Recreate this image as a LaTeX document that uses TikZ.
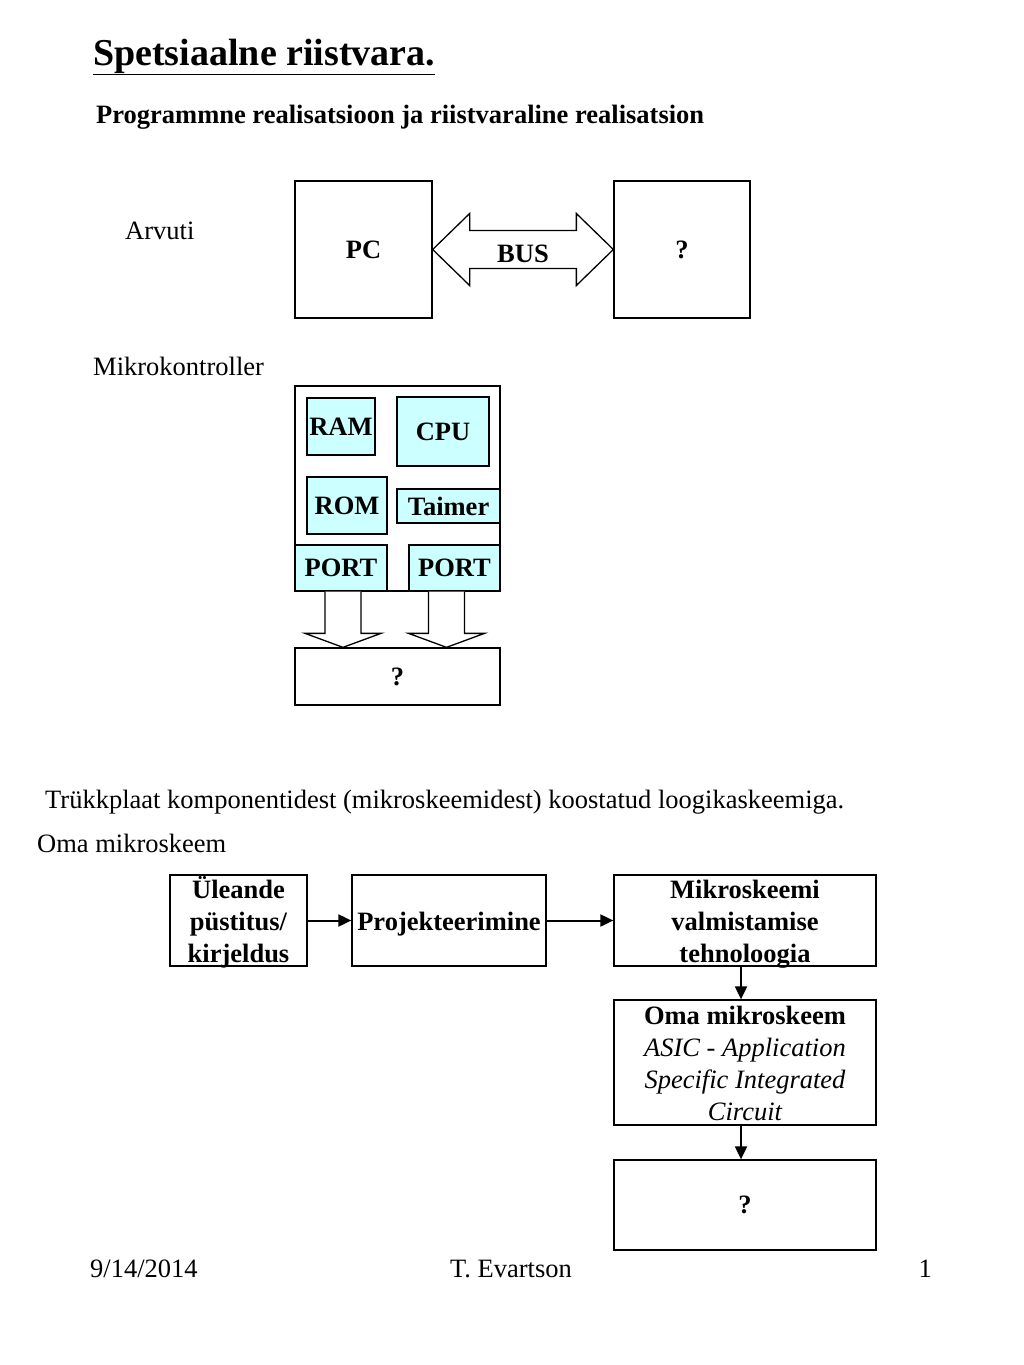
\documentclass[tikz,border=0pt]{standalone}
\usepackage{fontspec}
\setmainfont{Liberation Serif}
\usetikzlibrary{calc,arrows.meta}
\definecolor{txt}{HTML}{000000}
\definecolor{lnB}{HTML}{000000}
\definecolor{cyF}{HTML}{CCFFFF}
\definecolor{bgF}{HTML}{FFFFFF}
\newcommand\bodyfont{\fontsize{26.5}{32}\selectfont}
\newcommand\headfont{\fontsize{38}{44}\selectfont\bfseries}
\newcommand\itline[1]{{\mdseries\itshape #1}}

\begin{document}
\begin{tikzpicture}[
  x=1pt,y=-1pt,
  font=\bodyfont,text=txt,
  >={Triangle[length=13pt,width=12pt]},
  box/.style={draw=lnB,line width=1.3pt,fill=bgF,inner sep=0pt,align=center},
  unit/.style={box,fill=cyF,font=\bodyfont\bfseries},
  fbox/.style={box,font=\bodyfont\bfseries},
  blk/.style={draw=lnB,line width=1.3pt,fill=bgF,line join=miter},
  flow/.style={draw=lnB,line width=2pt,->},
  lbl/.style={anchor=base west,inner sep=0pt},
  ]
\useasboundingbox[fill=white] (0,0) rectangle (1024,1365);

% ---- headings ----
\node[lbl,font=\headfont] (ttl) at (93,65) {\underline{Spetsiaalne riistvara.}};
\node[lbl,font=\bodyfont\bfseries] (sub) at (96,123) {Programmne realisatsioon ja riistvaraline realisatsion};

% ---- arvuti ----
\node[lbl] (arv) at (125,239) {Arvuti};
\node[fbox,minimum width=137,minimum height=137] (pc) at (363.5,249.5) {PC};
\node[fbox,minimum width=136,minimum height=137] (qm) at (682,249.5) {?};
\draw[blk] (pc.east) -- ++(37,-36) -- ++(0,17) -- ($(qm.west)+(-37,-19)$) -- ++(0,-17)
  -- (qm.west) -- ++(-37,36) -- ++(0,-17) -- ($(pc.east)+(37,19)$) -- ++(0,17) -- cycle;
\node[font=\bodyfont\bfseries] (bus) at ($(pc.east)!0.5!(qm.west)+(0,4)$) {BUS};

% ---- mikrokontroller ----
\node[lbl] (mk) at (93,375) {Mikrokontroller};
\node[box,minimum width=205,minimum height=205] (mc) at (397.5,488.5) {};
\node[unit,minimum width=68,minimum height=57] (ram) at (341,426.5) {RAM};
\node[unit,minimum width=92,minimum height=69] (cpu) at (443,431.5) {CPU};
\node[unit,minimum width=80,minimum height=57] (rom) at (347,505.5) {ROM};
\node[unit,minimum width=103,minimum height=34] (tmr) at (448.5,506) {Taimer};
\node[unit,minimum width=92,minimum height=46] (p1) at (341,568) {PORT};
\node[unit,minimum width=91,minimum height=46] (p2) at (454.5,568) {PORT};
\node[fbox,minimum width=205,minimum height=57] (qb) at (397.5,676.5) {?};
\foreach \p/\dx in {p1/2,p2/-8}{
  \draw[blk] ($(\p.south)+(\dx-18,0)$) -- ($(\p.south|-qb.north)+(\dx-18,-14)$) -- ++(-20,0)
    -- ($(\p.south|-qb.north)+(\dx,0)$) -- ++(38,-14) -- ++(-20,0) -- ($(\p.south)+(\dx+18,0)$);
}

% ---- oma mikroskeem ----
\node[lbl] (tr) at (45,808) {Trükkplaat komponentidest (mikroskeemidest) koostatud loogikaskeemiga.};
\node[lbl] (om) at (37,852) {Oma mikroskeem};
\node[fbox,minimum width=137,minimum height=91,text height=83pt,text depth=0pt] (f1) at (238.5,920.5) {Üleande\\püstitus/\\kirjeldus};
\node[fbox,minimum width=194,minimum height=91,text height=19pt,text depth=0pt] (f2) at (449,920.5) {Projekteerimine};
\node[fbox,minimum width=262,minimum height=91,text height=83pt,text depth=0pt] (f3) at (745,920.5) {Mikroskeemi\\valmistamise\\tehnoloogia};
\node[fbox,minimum width=262,minimum height=125,text height=115pt,text depth=0pt] (f4) at (745,1062.5) {Oma mikroskeem\\\itline{ASIC - Application}\\\itline{Specific Integrated}\\\itline{Circuit}};
\node[fbox,minimum width=262,minimum height=90] (f5) at (745,1205) {?};

% ---- edges ----
\draw[flow] (f1) -- (f2);
\draw[flow] (f2) -- (f3);
\draw[flow] ([xshift=-4]f3.south) -- ([xshift=-4]f4.north);
\draw[flow] ([xshift=-4]f4.south) -- ([xshift=-4]f5.north);

% ---- footer ----
\node[lbl] (dt) at (90,1277) {9/14/2014};
\node[anchor=base,inner sep=0pt] (au) at (511,1277) {T. Evartson};
\node[anchor=base east,inner sep=0pt] (pg) at (932,1277) {1};

\end{tikzpicture}
\end{document}
